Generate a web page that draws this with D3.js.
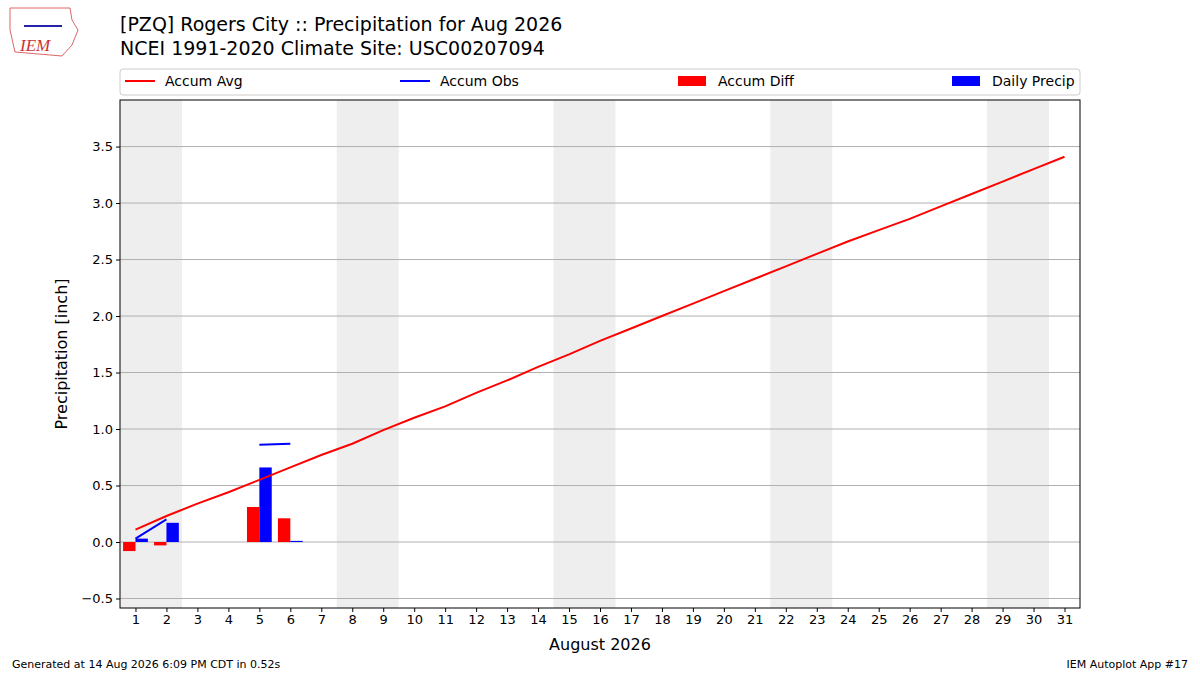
<!DOCTYPE html>
<html><head><meta charset="utf-8">
<script src="https://cdn.jsdelivr.net/npm/d3@7"></script>
<style>body{margin:0;background:#fff;font-family:"DejaVu Sans",sans-serif}</style>
</head><body>
<svg id="chart" width="1200" height="675"></svg>
<script>
const days = d3.range(1, 32);
const accumAvg = [0.11,0.23,0.34,0.44,0.55,0.66,0.77,0.87,0.99,1.10,1.20,1.32,1.43,1.55,1.66,1.78,1.89,2.00,2.11,2.22,2.33,2.44,2.55,2.66,2.76,2.86,2.97,3.08,3.19,3.30,3.41];
// observed days only; null = missing
const accumObs = [0.03,0.20,null,null,0.86,0.87];
const dailyPrecip = [0.03,0.17,null,null,0.66,0.01];
const accumDiff = [-0.08,-0.03,null,null,0.31,0.21];
const weekends = [1,8,15,22,29];
const yTicks = [-0.5,0,0.5,1,1.5,2,2.5,3,3.5];

const svg = d3.select('#chart');
const L = 120, R = 1080, T = 100, B = 608;
const x = d3.scaleLinear().domain([0.5, 31.5]).range([L, R]);
const y = d3.scaleLinear().domain([-0.584, 3.912]).range([B, T]);

// weekend shading
svg.selectAll('.wk').data(weekends).enter().append('rect')
  .attr('x', d => x(d - 0.5)).attr('width', x(2) - x(0))
  .attr('y', T).attr('height', B - T).attr('fill', '#eeeeee');

// grid
svg.selectAll('.grid').data(yTicks).enter().append('line')
  .attr('x1', L).attr('x2', R).attr('y1', d => y(d)).attr('y2', d => y(d))
  .attr('stroke', '#b0b0b0').attr('stroke-width', 1);

const bw = x(0.4) - x(0);
svg.selectAll('.diff').data(accumDiff.map((v, i) => ({d: i + 1, v})).filter(o => o.v !== null))
  .enter().append('rect')
  .attr('x', o => x(o.d - 0.4)).attr('width', bw)
  .attr('y', o => y(Math.max(0, o.v))).attr('height', o => Math.abs(y(o.v) - y(0)))
  .attr('fill', 'red');
svg.selectAll('.daily').data(dailyPrecip.map((v, i) => ({d: i + 1, v})).filter(o => o.v !== null))
  .enter().append('rect')
  .attr('x', o => x(o.d)).attr('width', bw)
  .attr('y', o => y(Math.max(0, o.v))).attr('height', o => Math.max(1, Math.abs(y(o.v) - y(0))))
  .attr('fill', 'blue');

const line = d3.line().defined(d => d[1] !== null).x(d => x(d[0])).y(d => y(d[1]));
svg.append('path').datum(days.map((d, i) => [d, accumAvg[i]]))
  .attr('d', line).attr('fill', 'none').attr('stroke', 'red').attr('stroke-width', 2);
svg.append('path').datum(accumObs.map((v, i) => [i + 1, v]))
  .attr('d', line).attr('fill', 'none').attr('stroke', 'blue').attr('stroke-width', 2);

// frame
svg.append('rect').attr('x', L).attr('y', T).attr('width', R - L).attr('height', B - T)
  .attr('fill', 'none').attr('stroke', '#000');

// axes
svg.append('g').attr('transform', `translate(0,${B})`)
  .call(d3.axisBottom(x).tickValues(days).tickSize(4).tickFormat(d3.format('d')))
  .call(g => { g.select('.domain').remove(); g.selectAll('text').attr('font-size', 13).attr('font-family', 'DejaVu Sans'); });
svg.append('g').attr('transform', `translate(${L},0)`)
  .call(d3.axisLeft(y).tickValues(yTicks).tickSize(4).tickFormat(d3.format('.1f')))
  .call(g => { g.select('.domain').remove(); g.selectAll('text').attr('font-size', 13).attr('font-family', 'DejaVu Sans').text(d => d3.format('.1f')(d).replace('-', '\u2212')); });

svg.append('text').attr('x', (L + R) / 2).attr('y', 650).attr('text-anchor', 'middle')
  .attr('font-size', 16).text('August 2026');
svg.append('text').attr('transform', `translate(67,${(T + B) / 2}) rotate(-90)`)
  .attr('text-anchor', 'middle').attr('font-size', 16).text('Precipitation [inch]');

// titles
svg.append('text').attr('x', 120).attr('y', 31).attr('font-size', 19).text('[PZQ] Rogers City :: Precipitation for Aug 2026');
svg.append('text').attr('x', 120).attr('y', 55).attr('font-size', 19).text('NCEI 1991-2020 Climate Site: USC00207094');

// legend
svg.append('rect').attr('x', 120).attr('y', 69).attr('width', 960).attr('height', 26).attr('rx', 3)
  .attr('fill', '#fff').attr('stroke', '#ccc');
const legend = [
  {label: 'Accum Avg', type: 'line', c: 'red', x: 125},
  {label: 'Accum Obs', type: 'line', c: 'blue', x: 400},
  {label: 'Accum Diff', type: 'rect', c: 'red', x: 678},
  {label: 'Daily Precip', type: 'rect', c: 'blue', x: 952}
];
const lg = svg.selectAll('.lg').data(legend).enter().append('g');
lg.filter(d => d.type === 'line').append('line').attr('x1', d => d.x).attr('x2', d => d.x + 30)
  .attr('y1', 81).attr('y2', 81).attr('stroke', d => d.c).attr('stroke-width', 2);
lg.filter(d => d.type === 'rect').append('rect').attr('x', d => d.x).attr('width', 28)
  .attr('y', 76).attr('height', 10).attr('fill', d => d.c);
lg.append('text').attr('x', d => d.x + 40).attr('y', 86).attr('font-size', 14).text(d => d.label);

// logo
svg.append('text').attr('x', 20).attr('y', 51).attr('font-size', 17).attr('font-style', 'italic')
  .attr('font-family', 'Liberation Serif').attr('fill', '#c33').text('IEM');
svg.append('path').attr('d', 'M10,8 L70,8 L72,20 L78,30 L72,45 L62,56 L15,52 L10,30 Z')
  .attr('fill', 'none').attr('stroke', '#d66');
svg.append('line').attr('x1', 24).attr('x2', 62).attr('y1', 26).attr('y2', 26).attr('stroke', '#22a').attr('stroke-width', 2);

svg.append('text').attr('x', 12).attr('y', 668).attr('font-size', 11).text('Generated at 14 Aug 2026 6:09 PM CDT in 0.52s');
svg.append('text').attr('x', 1188).attr('y', 668).attr('font-size', 11).attr('text-anchor', 'end').text('IEM Autoplot App #17');
</script>
</body></html>
